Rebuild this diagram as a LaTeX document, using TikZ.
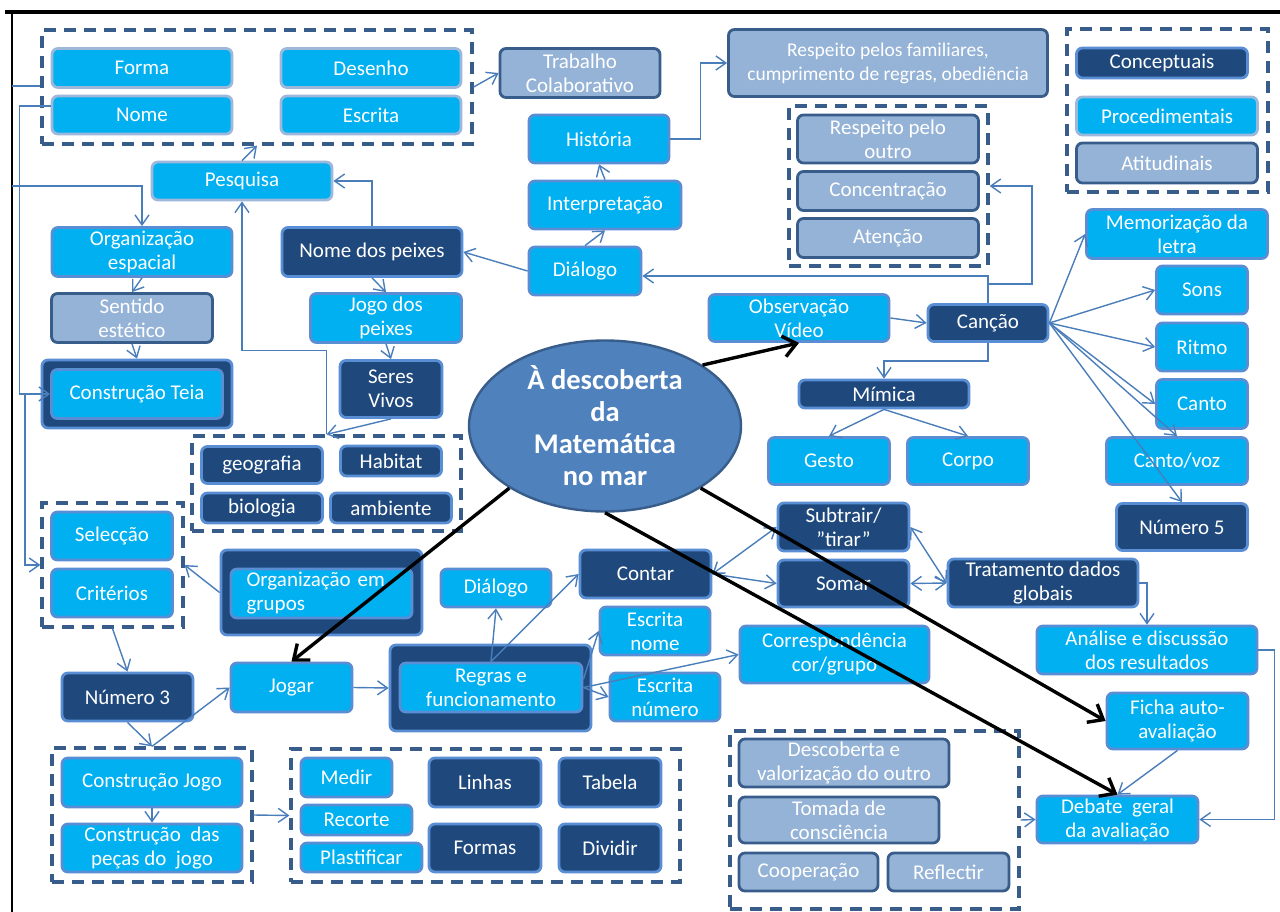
\documentclass[tikz,border=0pt]{standalone}
\usepackage{fontspec}
\setmainfont{Carlito}
\usetikzlibrary{arrows.meta,shapes.geometric}
\definecolor{cCyan} {HTML}{00B0F0}
\definecolor{cNavy} {HTML}{1F497D}
\definecolor{cSlate}{HTML}{95B3D7}
\definecolor{cDark} {HTML}{385D8A}
\definecolor{cMid}  {HTML}{5A8ED4}
\definecolor{cPale} {HTML}{9DB8DA}
\definecolor{cEdge} {HTML}{4A7EBB}
\definecolor{cCore} {HTML}{4F81BD}
\tikzset{
  wh/.style 2 args={minimum width=#1,minimum height=#2},
  blk/.style ={draw,rounded corners=6pt,line width=2.8pt,align=center,text=white,
               inner sep=1pt,font=\fontsize{21}{24}\selectfont},
  cyn/.style ={blk,fill=cCyan,draw=cMid},
  cynl/.style={blk,fill=cCyan,draw=cPale},
  nvy/.style ={blk,fill=cNavy,draw=cMid},
  slt/.style ={blk,fill=cSlate,draw=cDark},
  grp/.style ={draw=cDark,dash pattern=on 12pt off 8pt,line width=3.2pt,inner sep=0pt},
  lnk/.style ={-{Straight Barb[length=10pt,width=14pt]},draw=cEdge,line width=1.4pt},
  lnkb/.style={lnk,{Straight Barb[length=10pt,width=14pt]}-{Straight Barb[length=10pt,width=14pt]}},
  thk/.style ={-{Straight Barb[length=13pt,width=21pt]},draw=black,line width=3.4pt},
}

\begin{document}
\begin{tikzpicture}[x=1pt,y=-1pt]
\useasboundingbox (0,0) rectangle (1280,912);

% page rule
\draw[line width=3.5pt] (5,12) -- (1280,12);
\draw[line width=2.5pt] (12,12) -- (12,912);
\coordinate (fa) at (12,86);
\coordinate (fb) at (12,186);

% dashed groups
\node[grp,wh={430}{114}] (gtop) at (257,87)     {};
\node[grp,wh={199}{160}] (cgrp) at (888.5,186)  {};
\node[grp,wh={201}{163}] (kgrp) at (1167.5,110.5) {};
\node[grp,wh={269}{95}]  (ggrp) at (326.5,483.5) {};
\node[grp,wh={141}{124}] (sgrp) at (112.5,565)  {};
\node[grp,wh={200}{134}] (jgrp) at (152,815)    {};
\node[grp,wh={389}{133}] (tgrp) at (485.5,815.5) {};
\node[grp,wh={289}{178}] (bgrp) at (874.5,820)  {};

% top left
\node[cynl,wh={180}{39}] (forma) at (142,68)  {Forma};
\node[cynl,wh={180}{39}] (desen) at (371,68)  {Desenho};
\node[cynl,wh={180}{38}] (nome)  at (142,115) {Nome};
\node[cynl,wh={180}{38}] (escr)  at (371,115) {Escrita};
\node[slt,wh={160}{49}]  (trab)  at (580,73)  {Trabalho\\Colaborativo};
\node[slt,wh={319}{67},font=\fontsize{19.5}{24}\selectfont] (resp) at (888,63)
  {Respeito pelos familiares,\\cumprimento de regras, obediência};

\node[cyn,wh={140}{48}] (hist)   at (599,139) {História};
\node[cyn,wh={152}{48}] (interp) at (605,205) {Interpretação};
\node[cyn,wh={112}{48}] (dial)   at (585,271) {Diálogo};

\node[slt,wh={181}{48}] (respo) at (888,139) {Respeito pelo\\outro};
\node[slt,wh={181}{39}] (conc)  at (888,191) {Concentração};
\node[slt,wh={181}{39}] (aten)  at (888,238) {Atenção};

\node[nvy,wh={171}{30}]  (concep) at (1162,63)  {Conceptuais};
\node[cynl,wh={181}{38}] (proc)   at (1167,116) {Procedimentais};
\node[slt,wh={181}{40}]  (atit)   at (1167,163) {Atitudinais};

% fish branch
\node[cynl,wh={180}{38}] (pesq)   at (242,181) {Pesquisa};
\node[cyn,wh={180}{49}]  (orgesp) at (142,252) {Organização\\espacial};
\node[nvy,wh={180}{49}]  (nomep)  at (372,252) {Nome dos peixes};
\node[slt,wh={161}{49}]  (sent)   at (132,318) {Sentido\\estético};
\node[cyn,wh={151}{49}]  (jogo)   at (386,318) {Jogo dos\\peixes};
\node[nvy,wh={190}{68}]  (teiab)  at (137,394) {};
\node[cyn,wh={171}{49}]  (teia)   at (137,394) {Construção Teia};
\node[nvy,wh={102}{57}]  (seres)  at (391,389) {Seres\\Vivos};
\node[nvy,wh={121}{37}]  (geo)    at (262,465) {geografia};
\node[nvy,wh={101}{30}]  (habit)  at (391,461) {Habitat};
\node[nvy,wh={121}{30}]  (bio)    at (262,508) {biologia};
\node[nvy,wh={121}{30}]  (amb)    at (391,508) {ambiente};

% centre
\node[ellipse,draw=cDark,fill=cCore,line width=2.4pt,inner sep=0pt,wh={272}{171},
      text=white,align=center,font=\fontsize{28.5}{32}\selectfont\bfseries] (ell) at (605,426)
  {À descoberta\\da\\Matemática\\no mar};

% song branch
\node[cyn,wh={180}{47}] (obs)   at (799,318)  {Observação\\Vídeo};
\node[nvy,wh={120}{37}] (canc)  at (988,323)  {Canção};
\node[nvy,wh={170}{28}] (mim)   at (884,394)  {Mímica};
\node[cyn,wh={121}{47}] (gesto) at (829,461)  {Gesto};
\node[cyn,wh={121}{47}] (corpo) at (968,461)  {Corpo};
\node[cyn,wh={181}{49}] (memo)  at (1177,234) {Memorização da\\letra};
\node[cyn,wh={91}{48}]  (sons)  at (1202,290) {Sons};
\node[cyn,wh={91}{48}]  (ritmo) at (1202,347) {Ritmo};
\node[cyn,wh={91}{49}]  (canto) at (1202,404) {Canto};
\node[cyn,wh={141}{47}] (cvoz)  at (1177,461) {Canto/voz};
\node[nvy,wh={131}{47}] (num5)  at (1182,527) {Número 5};

% game branch
\node[cyn,wh={121}{48}] (selec)  at (112,536)     {Selecção};
\node[cyn,wh={121}{48}] (crit)   at (112,593)     {Critérios};
\node[nvy,wh={201}{85}] (orggrb) at (321.5,592.5) {};
\node[cyn,wh={181}{49},align=left,text width=150] (orggr) at (321.5,593.5)
  {Organização em\\grupos};
\node[nvy,wh={131}{48}] (num3)   at (127.5,697)   {Número 3};
\node[cyn,wh={121}{49}] (jogar)  at (291.5,687.5) {Jogar};
\node[nvy,wh={201}{86}] (regrasb) at (490.5,688)  {};
\node[cyn,wh={182}{49}] (regras) at (491,687.5)   {Regras e\\funcionamento};
\node[cyn,wh={110}{38}] (dial2)  at (496,588)     {Diálogo};
\node[nvy,wh={131}{48}] (contar) at (645.5,574)   {Contar};
\node[cyn,wh={110}{48}] (escn)   at (655,631)     {Escrita\\nome};
\node[cyn,wh={110}{48}] (escnum) at (665,697)     {Escrita\\número};
\node[cyn,wh={189}{57}] (corr)   at (834.5,654.5) {Correspondência\\cor/grupo};
\node[nvy,wh={131}{48}] (subtr)  at (843.5,527)   {Subtrair/\\”tirar”};
\node[nvy,wh={131}{47}] (somar)  at (843.5,583.5) {Somar};
\node[nvy,wh={190}{48}] (trat)   at (1043,583)    {Tratamento dados\\globais};
\node[cyn,wh={220}{48}] (anal)   at (1147,650)    {Análise e discussão\\dos resultados};
\node[cyn,wh={141}{56}] (ficha)  at (1177.5,721)  {Ficha auto-\\avaliação};
\node[cyn,wh={161}{47}] (deb)    at (1117.5,819.5) {Debate~ geral\\da avaliação};

\node[slt,wh={210}{48}] (desc) at (844,763)   {Descoberta e\\valorização do outro};
\node[slt,wh={200}{46}] (toma) at (839,820)   {Tomada de\\consciência};
\node[slt,wh={139}{38}] (coop) at (808.5,872) {Cooperação};
\node[slt,wh={121}{38}] (refl) at (948.5,872) {Reflectir};

\node[cyn,wh={180}{49}] (cjogo)  at (152,782.5) {Construção Jogo};
\node[cyn,wh={180}{48}] (cpecas) at (152,848)   {Construção~ das\\peças do~ jogo};
\node[cyn,wh={91}{39}]  (medir)  at (346.5,777.5) {Medir};
\node[cyn,wh={111}{30}] (recor)  at (356.5,820)   {Recorte};
\node[cyn,wh={121}{29}] (plast)  at (361.5,857.5) {Plastificar};
\node[nvy,wh={112}{49}] (linhas) at (485,782.5)   {Linhas};
\node[nvy,wh={102}{49}] (tabela) at (610,782.5)   {Tabela};
\node[nvy,wh={112}{48}] (formas) at (485,848)     {Formas};
\node[nvy,wh={102}{48}] (divid)  at (610,848)     {Dividir};

% connectors, left half
\draw[lnk,-] (fa) -- (fa -| gtop.west);
\draw[lnk] (gtop.east) -- (trab.west);
\draw[lnk] (pesq.north) -- (gtop.south);
\draw[lnk] (nomep.north) |- (pesq.east);
\draw[lnk] (ggrp.north) -- ++(0,-84) -| (pesq.south);
\draw[lnk] (seres.south) -- (ggrp.north);
\draw[lnk] (nomep.south) -- (jogo.north);
\draw[lnk] (jogo.south) -- (seres.north);
\draw[lnk] (fb) -| (orgesp.north);
\draw[lnk] (orgesp.south) -- (sent.north);
\draw[lnk] (sent.south) -- (teiab.north);
\draw[lnk] ([yshift=9pt]nome.west) -- ++(-31,0) |- (teia.west);
\draw[lnk] (teia.west -| 25,0) |- (sgrp.west);
\draw[lnk] (orggrb.west) -- (sgrp.east);
\draw[lnk] (sgrp.south) -- (num3.north);
\draw[lnk] (num3.south) -- (jgrp.north);
\draw[lnk] (jgrp.north) -- (jogar.west);
\draw[lnk] (cjogo.south) -- (cpecas.north);
\draw[lnk] (jgrp.east) -- (tgrp.west);
\draw[lnk] (jogar.east) -- (regrasb.west);

% connectors, story and song
\draw[lnk] (dial.west) -- (nomep.east);
\draw[lnk] (dial.north) -- (interp.south);
\draw[lnk] (interp.north) -- (hist.south);
\draw[lnk] (hist.east) -- ++(30,0) |- (resp.west);
\draw[lnk] (obs.east) -- (canc.west);
\draw[lnk] (canc.north) |- ([yshift=-5pt]dial.east);
\draw[lnk] (canc.north) -- ++(0,-19) -- ++(44,0) |- (cgrp.east);
\draw[lnk] (canc.south) -- ++(0,18) -| (mim.north);
\draw[lnk] (mim.south) -- (gesto.north);
\draw[lnk] (mim.south) -- (corpo.north);
\foreach \t in {memo.west,sons.west,ritmo.west,canto.west,cvoz.north,num5.north}
  \draw[lnk] (canc.east) -- (\t);

% connectors, rules and counting
\draw[lnk] (regras.north) -- (dial2.south);
\draw[lnk] (regras.north) -- (contar.west);
\draw[lnk] ([yshift=8pt]regras.east) -- (escn.west);
\draw[lnk] (regras.east) -- (escnum.west);
\draw[lnk] (regras.east) -- (corr.west);
\draw[lnkb] (contar.east) -- (subtr.west);
\draw[lnk] (contar.east) -- (somar.west);
\draw[lnkb] (somar.east) -- (trat.west);
\draw[lnkb] (subtr.east) -- (trat.west);
\draw[lnk] (trat.east) -| (anal.north);
\draw[lnk] (anal.east) -- ++(16,0) |- (deb.east);
\draw[lnk] (ficha.south) -- (deb.north);
\draw[lnk] (bgrp.east) -- (deb.west);

% main arrows out of the centre
\draw[thk] (ell.32)  -- (obs.south);
\draw[thk] (ell.-33) -- (ficha.west);
\draw[thk] (ell.south) -- (deb.north);
\draw[thk] (ell.213) -- (jogar.north);
\end{tikzpicture}
\end{document}
